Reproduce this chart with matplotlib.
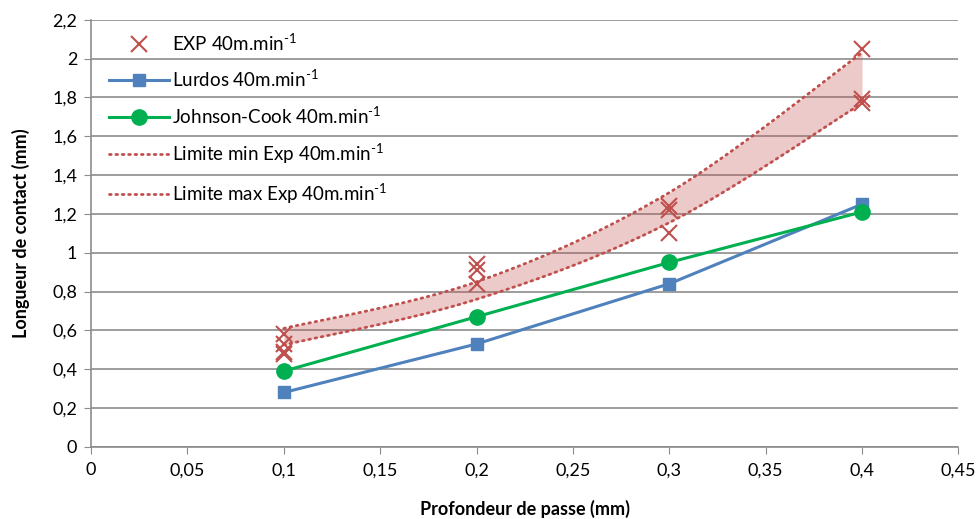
import numpy as np
import matplotlib.pyplot as plt
from matplotlib.ticker import FuncFormatter, MultipleLocator

plt.rcParams['font.family'] = ['Lato', 'DejaVu Sans']
plt.rcParams['mathtext.fontset'] = 'custom'
plt.rcParams['mathtext.rm'] = 'Lato'

# experimental points (several tests per depth)
exp_x = [0.1, 0.1, 0.1, 0.1, 0.2, 0.2, 0.2, 0.3, 0.3, 0.3, 0.4, 0.4, 0.4]
exp_y = [0.58, 0.53, 0.49, 0.48, 0.94, 0.91, 0.84, 1.24, 1.22, 1.10, 2.05, 1.79, 1.77]

depth = [0.1, 0.2, 0.3, 0.4]
lurdos = [0.28, 0.53, 0.84, 1.25]
johnson_cook = [0.39, 0.67, 0.95, 1.21]
lim_min = [0.525, 0.76, 1.155, 1.77]
lim_max = [0.61, 0.85, 1.31, 2.03]

RED = '#C0504D'
BLUE = '#4F81BD'
GREEN = '#00B050'
GRID = '#8C8C8C'
UNIT = r' 40m.min$^{\text{-}1}$'


def smooth(xs, ys, n=40):
    # Catmull-Rom style smoothing, like the spreadsheet's "smoothed line"
    xs = np.asarray(xs, float)
    ys = np.asarray(ys, float)
    px = np.concatenate([[xs[0]], xs, [xs[-1]]])
    py = np.concatenate([[ys[0]], ys, [ys[-1]]])
    out_x, out_y = [], []
    t = np.linspace(0, 1, n)
    for i in range(1, len(px) - 2):
        p0, p1, p2, p3 = [np.array([px[j], py[j]]) for j in range(i - 1, i + 3)]
        c1 = p1 + (p2 - p0) / 6
        c2 = p2 - (p3 - p1) / 6
        b = ((1 - t) ** 3)[:, None] * p1 + (3 * (1 - t) ** 2 * t)[:, None] * c1 \
            + (3 * (1 - t) * t ** 2)[:, None] * c2 + (t ** 3)[:, None] * p2
        out_x.extend(b[:, 0])
        out_y.extend(b[:, 1])
    return np.array(out_x), np.array(out_y)


fig = plt.figure(figsize=(9.79, 5.19), dpi=100)
ax = fig.add_axes([0.093, 0.139, 0.886, 0.823])

sx, s_min = smooth(depth, lim_min)
_, s_max = smooth(depth, lim_max)
ax.fill_between(sx, s_min, s_max, color=RED, alpha=0.3, linewidth=0, zorder=2)

ax.plot(exp_x, exp_y, linestyle='none', marker='x', color=RED, markersize=11,
        markeredgewidth=1.5, label='EXP' + UNIT, zorder=5)
ax.plot(depth, lurdos, color=BLUE, linewidth=2.2, marker='s', markersize=8,
        label='Lurdos' + UNIT, zorder=4)
ax.plot(depth, johnson_cook, color=GREEN, linewidth=2.2, marker='o', markersize=11,
        label='Johnson-Cook' + UNIT, zorder=4)
ax.plot(sx, s_min, color=RED, linewidth=2.0, linestyle=(0, (0.6, 1.7)),
        dash_capstyle='round', label='Limite min Exp' + UNIT, zorder=3)
ax.plot(sx, s_max, color=RED, linewidth=2.0, linestyle=(0, (0.6, 1.7)),
        dash_capstyle='round', label='Limite max Exp' + UNIT, zorder=3)

ax.set_xlim(0, 0.45)
ax.set_ylim(0, 2.2)
ax.xaxis.set_major_locator(MultipleLocator(0.05))
ax.yaxis.set_major_locator(MultipleLocator(0.2))
fmt = FuncFormatter(lambda v, p: ('%g' % round(v, 2)).replace('.', ','))
ax.xaxis.set_major_formatter(fmt)
ax.yaxis.set_major_formatter(fmt)

ax.grid(axis='y', color=GRID, linewidth=1.2)
ax.set_axisbelow(True)
for s in ['top', 'right']:
    ax.spines[s].set_visible(False)
for s in ['left', 'bottom']:
    ax.spines[s].set_color(GRID)
    ax.spines[s].set_linewidth(1.2)
ax.tick_params(length=5, color=GRID, labelsize=13)
ax.tick_params(axis='x', pad=6)
ax.tick_params(axis='y', pad=5)

ax.set_xlabel('Profondeur de passe (mm)', fontsize=13, fontweight='bold', labelpad=16)
ax.set_ylabel('Longueur de contact (mm)', fontsize=13, fontweight='bold', labelpad=16)

ax.legend(loc='upper left', bbox_to_anchor=(0.006, 1.003), frameon=False,
          fontsize=13.5, handlelength=3.2, labelspacing=0.78, handletextpad=0.12,
          borderaxespad=0.3)

fig.savefig('out.png', dpi=100)
